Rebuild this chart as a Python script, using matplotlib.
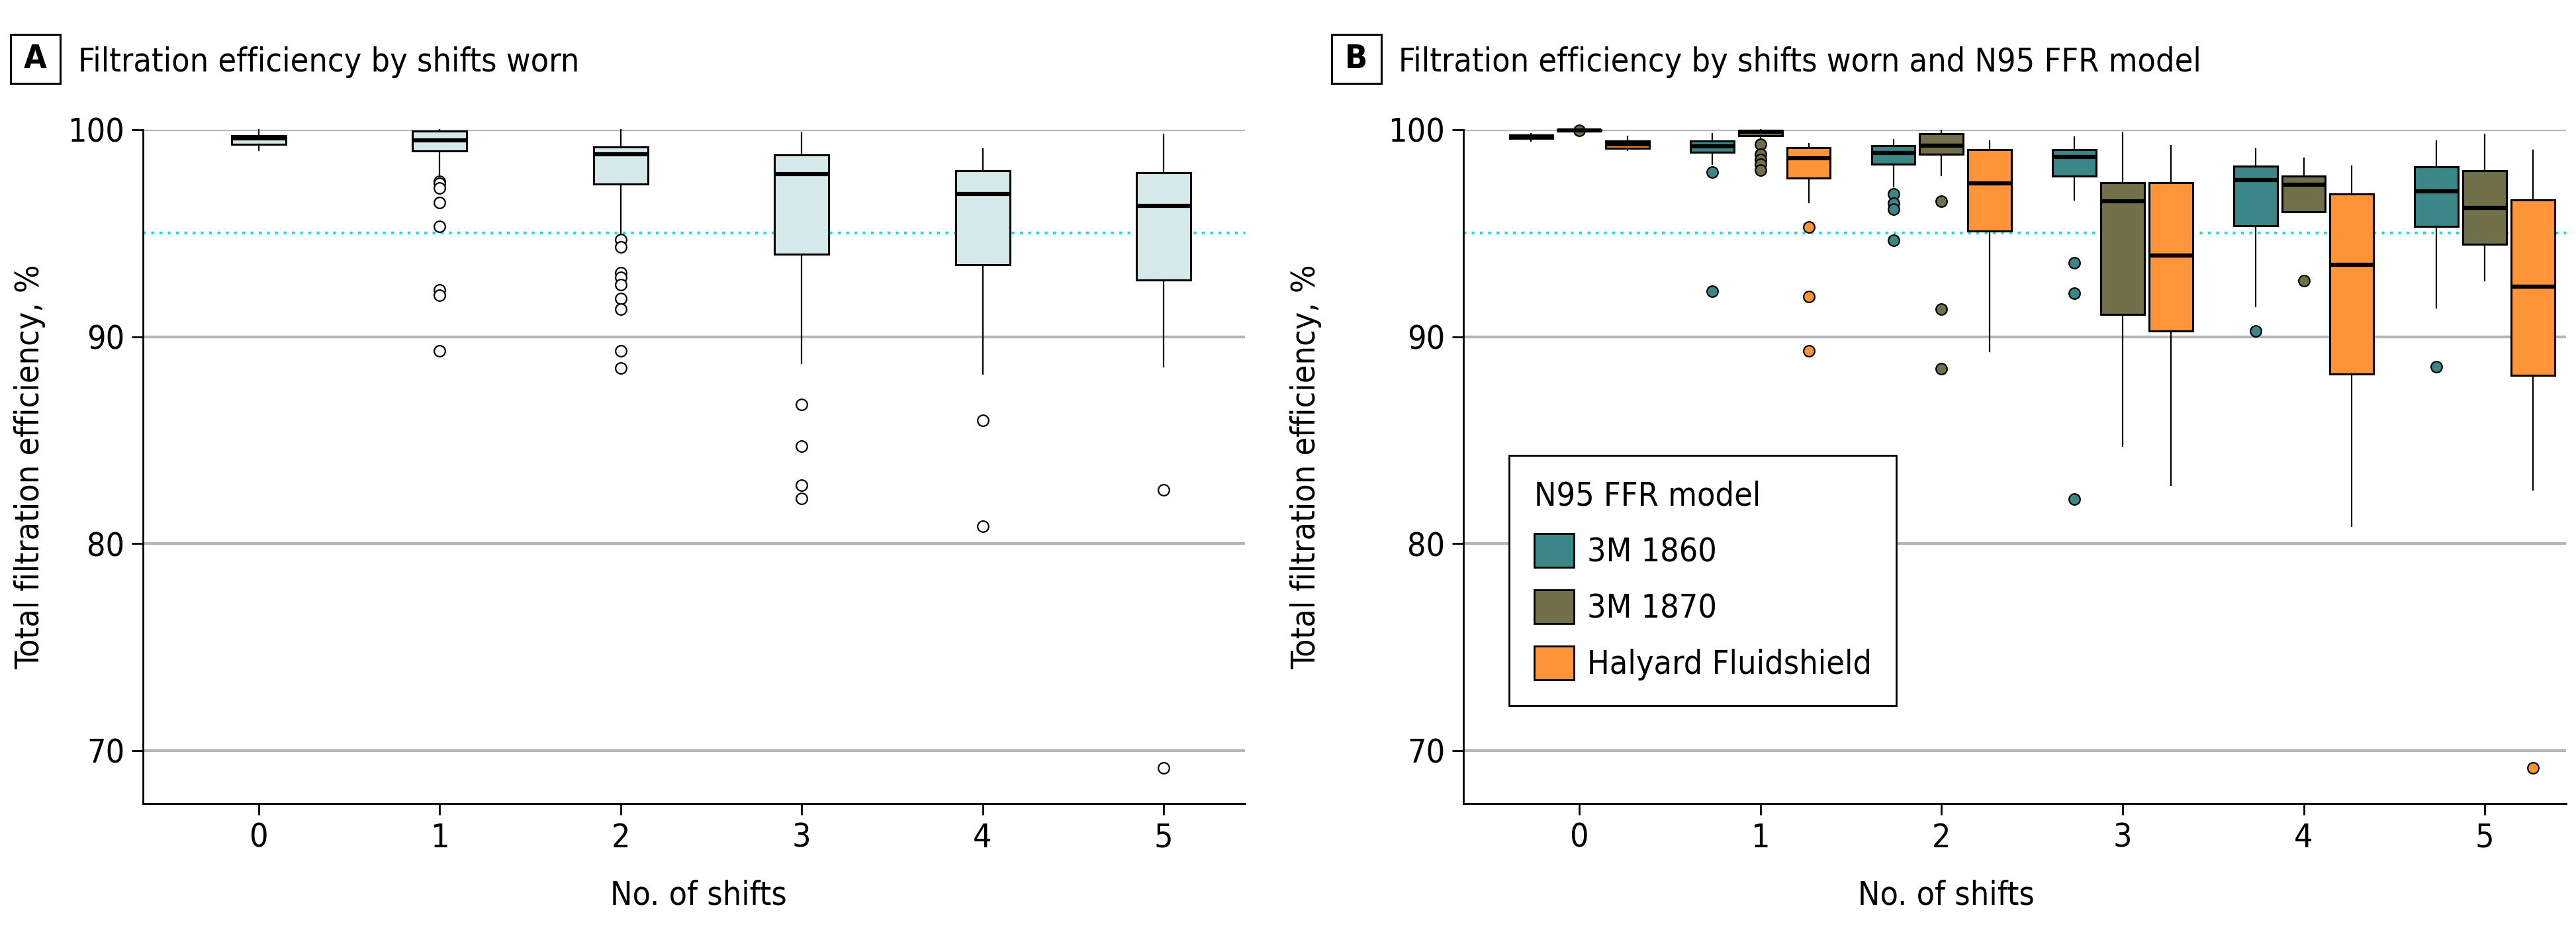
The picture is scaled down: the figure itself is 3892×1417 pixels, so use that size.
"""
Filtration efficiency boxplots: A overall by shifts, B by shifts and N95 FFR model
"""
import matplotlib
matplotlib.use('Agg')
import matplotlib.pyplot as plt
from matplotlib.patches import Patch, Rectangle

plt.rcParams['font.family'] = ['DejaVu Sans']
plt.rcParams['font.stretch'] = 'condensed'

# ---- data ----
shifts = [0, 1, 2, 3, 4, 5]
shift_labels = ['0', '1', '2', '3', '4', '5']

# panel A: all models pooled
a_q1 = [99.30, 98.96, 97.38, 93.98, 93.49, 92.73]
a_med = [99.57, 99.48, 98.82, 97.85, 96.91, 96.33]
a_q3 = [99.72, 99.94, 99.17, 98.77, 98.03, 97.92]
a_lo = [99.00, 97.74, 95.00, 88.72, 88.21, 88.55]
a_hi = [100.0, 100.0, 100.0, 99.87, 99.08, 99.78]
a_fliers = [[],
            [97.50, 97.40, 97.20, 96.49, 95.33, 92.26, 92.00, 89.33],
            [94.70, 94.33, 93.10, 92.87, 92.52, 91.85, 91.34, 89.33, 88.48],
            [86.73, 84.72, 82.82, 82.19],
            [85.97, 80.83],
            [82.60, 69.17]]

# panel B: per model
models = ['3M 1860', '3M 1870', 'Halyard Fluidshield']
colors = ['#3b8686', '#71704a', '#ff9438']

m1860_q1 = [99.59, 98.92, 98.33, 97.76, 95.37, 95.32]
m1860_med = [99.67, 99.19, 98.89, 98.68, 97.58, 97.02]
m1860_q3 = [99.74, 99.47, 99.22, 99.04, 98.23, 98.21]
m1860_lo = [99.46, 98.33, 97.26, 96.60, 91.45, 91.41]
m1860_hi = [99.80, 99.80, 99.52, 99.66, 99.06, 99.44]
m1860_fliers = [[], [97.95, 92.18], [96.89, 96.44, 96.15, 94.66],
                [93.56, 92.11, 82.15], [90.29], [88.55]]

m1870_q1 = [99.93, 99.72, 98.83, 91.07, 96.04, 94.47]
m1870_med = [99.98, 99.89, 99.23, 96.53, 97.34, 96.24]
m1870_q3 = [100.0, 99.97, 99.80, 97.43, 97.76, 98.01]
m1870_lo = [99.93, 99.57, 97.79, 84.72, 96.04, 92.71]
m1870_hi = [100.0, 100.0, 99.97, 99.87, 98.61, 99.78]
m1870_fliers = [[99.96], [99.30, 98.83, 98.55, 98.33, 98.05],
                [96.55, 91.34, 88.45], [], [92.71], []]

hal_q1 = [99.09, 97.66, 95.12, 90.27, 88.19, 88.14]
hal_med = [99.30, 98.62, 97.40, 93.92, 93.47, 92.42]
hal_q3 = [99.47, 99.15, 99.04, 97.43, 96.91, 96.60]
hal_lo = [99.00, 96.48, 89.28, 82.82, 80.83, 82.60]
hal_hi = [99.69, 99.33, 99.46, 99.22, 98.23, 99.02]
hal_fliers = [[], [95.30, 91.95, 89.32], [], [], [], [69.17]]

threshold = 95
y_ticks = [70, 80, 90, 100]

FS = 36


def make_stats(q1, med, q3, lo, hi, fliers):
    return [dict(q1=a, med=b, q3=c, whislo=d, whishi=e, fliers=f)
            for a, b, c, d, e, f in zip(q1, med, q3, lo, hi, fliers)]


def draw_boxes(ax, stats, positions, width, face, flier_face):
    art = ax.bxp(stats, positions=positions, widths=width, patch_artist=True,
                 showcaps=False, manage_ticks=False,
                 boxprops=dict(facecolor=face, edgecolor='black', linewidth=2.2),
                 medianprops=dict(color='black', linewidth=4.5, solid_capstyle='butt'),
                 whiskerprops=dict(color='black', linewidth=1.6),
                 flierprops=dict(marker='o', markersize=12, markerfacecolor=flier_face,
                                 markeredgecolor='black', markeredgewidth=1.6),
                 zorder=3)
    for key in art:
        for a in art[key]:
            a.set_clip_on(False)
    return art


def style_axes(ax):
    ax.set_xlim(-0.64, 5.45)
    ax.set_ylim(67.44, 100)
    ax.set_yticks(y_ticks)
    ax.set_xticks(shifts)
    ax.set_xticklabels(shift_labels)
    for s in ['top', 'right']:
        ax.spines[s].set_visible(False)
    for s in ['left', 'bottom']:
        ax.spines[s].set_linewidth(2)
    ax.tick_params(length=12, width=2, labelsize=FS, pad=8)
    ax.yaxis.grid(True, color='#b5b5b5', linewidth=3)
    ax.set_axisbelow(True)
    ax.axhline(threshold, color='#00e5ee', linestyle=(0, (1, 2)), linewidth=3, zorder=1.5)


fig = plt.figure(figsize=(38.92, 14.17), dpi=100)
ax_a = fig.add_axes([0.0555, 0.1433, 0.4278, 0.7184])
ax_b = fig.add_axes([0.5681, 0.1433, 0.4281, 0.7184])

# ---- (A) pooled ----
style_axes(ax_a)
draw_boxes(ax_a, make_stats(a_q1, a_med, a_q3, a_lo, a_hi, a_fliers),
           shifts, 0.30, '#d5e9ea', 'white')
ax_a.set_xlabel('No. of shifts', fontsize=FS, va='center')
ax_a.xaxis.set_label_coords(0.504, -0.1365)
ax_a.set_ylabel('Total filtration efficiency, %', fontsize=FS, va='center')
ax_a.yaxis.set_label_coords(-0.1027, 0.5)

# ---- (B) by model ----
style_axes(ax_b)
offsets = [-0.266, 0.0, 0.266]
model_stats = [
    make_stats(m1860_q1, m1860_med, m1860_q3, m1860_lo, m1860_hi, m1860_fliers),
    make_stats(m1870_q1, m1870_med, m1870_q3, m1870_lo, m1870_hi, m1870_fliers),
    make_stats(hal_q1, hal_med, hal_q3, hal_lo, hal_hi, hal_fliers),
]
for st, off, col in zip(model_stats, offsets, colors):
    draw_boxes(ax_b, st, [s + off for s in shifts], 0.24, col, col)
ax_b.set_xlabel('No. of shifts', fontsize=FS, va='center')
ax_b.xaxis.set_label_coords(0.438, -0.1365)
ax_b.set_ylabel('Total filtration efficiency, %', fontsize=FS, va='center')
ax_b.yaxis.set_label_coords(-0.1429, 0.5)

handles = [Patch(facecolor=c, edgecolor='black', linewidth=2, label=m)
           for c, m in zip(colors, models)]
leg = ax_b.legend(handles=handles, title='N95 FFR model', fontsize=FS, title_fontsize=FS,
                  loc='upper left', bbox_to_anchor=(0.0414, 0.5167), borderaxespad=0,
                  fancybox=False, framealpha=1, edgecolor='black',
                  handlelength=1.2, handleheight=1.2, handletextpad=0.4,
                  labelspacing=0.65, borderpad=0.75, alignment='left')
leg.get_frame().set_linewidth(2)

# ---- panel titles ----
for bx, tx, letter, title in [(16, 118, 'A', 'Filtration efficiency by shifts worn'),
                              (2012, 2113, 'B', 'Filtration efficiency by shifts worn and N95 FFR model')]:
    fig.patches.append(Rectangle((bx / 3892, 1 - 126 / 1417), 75 / 3892, 74 / 1417,
                                 transform=fig.transFigure, fill=False,
                                 edgecolor='black', linewidth=2.2))
    fig.text((bx + 37.5) / 3892, 1 - 89 / 1417, letter, fontsize=FS, fontweight='bold',
             ha='center', va='center')
    fig.text(tx / 3892, 1 - 108 / 1417, title, fontsize=FS, ha='left', va='baseline')

fig.savefig('out.png', dpi=100)
plt.close(fig)
